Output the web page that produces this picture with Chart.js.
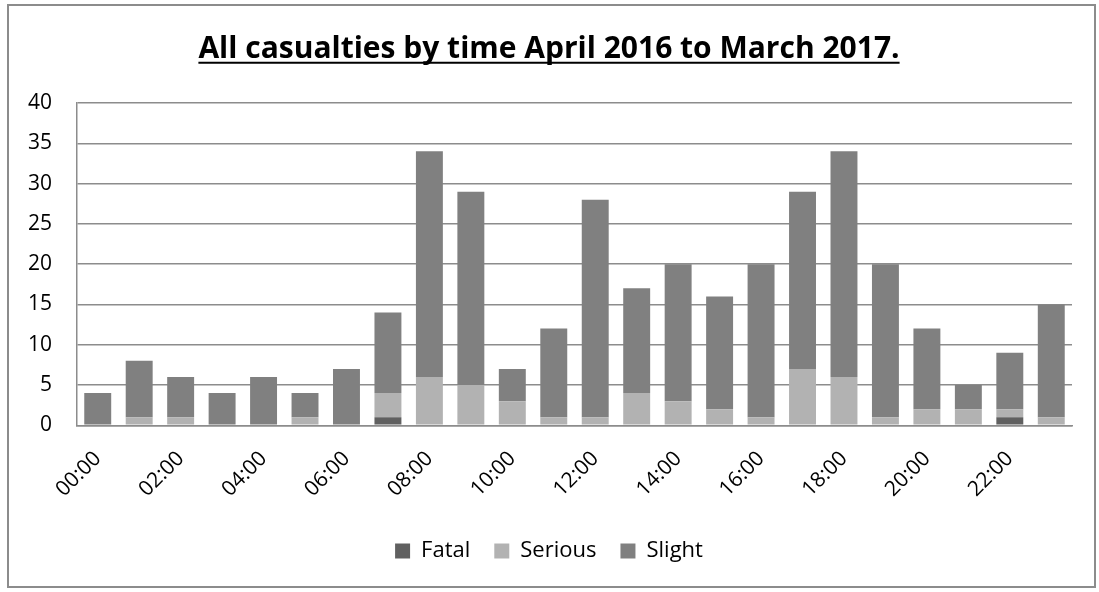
<!DOCTYPE html>
<html>
<head>
<meta charset="utf-8">
<script src="https://cdn.jsdelivr.net/npm/chart.js@4/dist/chart.umd.min.js"></script>
<style>
  html, body { margin: 0; padding: 0; background: #fff; }
  #wrap { position: absolute; left: 7px; top: 4px; width: 1089px; height: 584px; box-sizing: border-box; border: 2px solid #8c8c8c; background: #fff; }
  canvas { display: block; }
</style>
</head>
<body>
<div id="wrap"><canvas id="c"></canvas></div>
<script>
const categories = ["00:00","01:00","02:00","03:00","04:00","05:00","06:00","07:00","08:00","09:00","10:00","11:00",
                    "12:00","13:00","14:00","15:00","16:00","17:00","18:00","19:00","20:00","21:00","22:00","23:00"];
const fatal   = [0,0,0,0,0,0,0,1,0,0,0,0,0,0,0,0,0,0,0,0,0,0,1,0];
const serious = [0,1,1,0,0,1,0,3,6,5,3,1,1,4,3,2,1,7,6,1,2,2,1,1];
const slight  = [4,7,5,4,6,3,7,10,28,24,4,11,27,13,17,14,19,22,28,19,10,3,7,14];
const yTicks  = [0,5,10,15,20,25,30,35,40];
const titleText = "All casualties by time April 2016 to March 2017.";

const FONT = "'Open Sans', Lato, sans-serif";

const underlineTitle = {
  id: 'underlineTitle',
  afterDraw(chart) {
    const tb = chart.titleBlock;
    if (!tb) return;
    const ctx = chart.ctx;
    const opts = chart.options.plugins.title;
    ctx.save();
    ctx.font = `bold ${opts.font.size}px ${FONT}`;
    const w = ctx.measureText(titleText).width;
    const cx = tb.left + tb.width / 2;
    const y = tb.top + opts.padding.top + opts.font.size * 1.2 / 2 + opts.font.size * 0.46;
    ctx.strokeStyle = '#000';
    ctx.lineWidth = 2;
    ctx.beginPath();
    ctx.moveTo(cx - w / 2, y);
    ctx.lineTo(cx + w / 2, y);
    ctx.stroke();
    ctx.restore();
  }
};

new Chart(document.getElementById('c'), {
  type: 'bar',
  data: {
    labels: categories,
    datasets: [
      { label: 'Fatal',   data: fatal,   backgroundColor: '#606060' },
      { label: 'Serious', data: serious, backgroundColor: '#b2b2b2' },
      { label: 'Slight',  data: slight,  backgroundColor: '#808080' }
    ]
  },
  options: {
    responsive: true,
    maintainAspectRatio: false,
    animation: false,
    layout: { padding: { left: 17, right: 22, top: 0, bottom: 14 } },
    datasets: { bar: { categoryPercentage: 1.0, barPercentage: 0.65 } },
    scales: {
      x: {
        stacked: true,
        afterFit(scale) { scale.paddingLeft = 0; scale.paddingRight = 0; scale.height = scale.height - 7; },
        grid: { display: false, drawTicks: false },
        border: { display: true, color: '#8c8c8c', width: 1.5 },
        ticks: {
          autoSkip: false,
          maxRotation: 45, minRotation: 45,
          color: '#000',
          padding: 21,
          font: { family: FONT, size: 21 },
          callback: function (value, index) { return index % 2 === 0 ? categories[index] : ''; }
        }
      },
      y: {
        stacked: true,
        min: 0, max: 40,
        afterBuildTicks(axis) { axis.ticks = yTicks.map(v => ({ value: v })); },
        afterFit(scale) { scale.width = 51; },
        grid: { color: '#8c8c8c', lineWidth: 1.5, drawTicks: false },
        border: { display: true, color: '#8c8c8c', width: 1.5 },
        ticks: {
          color: '#000',
          padding: 25,
          font: { family: FONT, size: 21 }
        }
      }
    },
    plugins: {
      title: {
        display: true,
        text: titleText,
        color: '#000',
        font: { family: FONT, size: 30, weight: 'bold' },
        padding: { top: 25, bottom: 36 }
      },
      legend: {
        position: 'bottom',
        labels: {
          color: '#000',
          boxWidth: 15, boxHeight: 15,
          padding: 24,
          font: { family: FONT, size: 22 }
        }
      },
      tooltip: { enabled: false }
    }
  },
  plugins: [underlineTitle]
});
</script>
</body>
</html>
